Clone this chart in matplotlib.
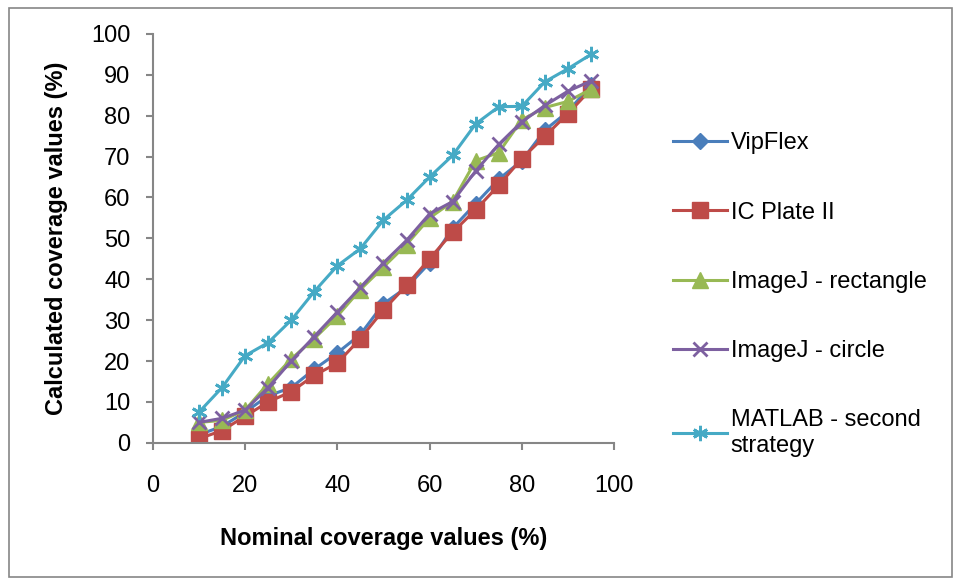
import matplotlib.pyplot as plt
from matplotlib.patches import Rectangle

plt.rcParams['font.family'] = ['Liberation Sans', 'DejaVu Sans']

# Nominal coverage values (%)
nominal = [10, 15, 20, 25, 30, 35, 40, 45, 50, 55, 60, 65, 70, 75, 80, 85, 90, 95]

# Calculated coverage values (%)
vipflex = [2, 4, 7.5, 11.5, 13.5, 18, 22, 26.5, 34, 38, 44, 52.5, 58.5, 64.5, 69, 76.5, 81, 87.5]
ic_plate = [1, 3, 6.5, 10, 12.5, 16.5, 19.5, 25.5, 32.5, 38.5, 45, 51.5, 57, 63, 69.5, 75, 80.5, 86.5]
imagej_rect = [5, 5.5, 8, 14.5, 20.5, 25.5, 31, 37.5, 43, 48.5, 55, 59, 69, 71, 79, 82, 83.5, 86.5]
imagej_circle = [5, 6, 8, 13.5, 20, 26, 32, 38, 44, 49.5, 56, 59, 66.5, 73, 78.5, 82.5, 86, 88.5]
matlab = [7.5, 13.5, 21.3, 24.5, 30, 37, 43.3, 47.5, 54.5, 59.3, 65, 70.3, 78, 82.2, 82.3, 88.3, 91.5, 95]

fig = plt.figure(figsize=(9.61, 5.85), dpi=100)
ax = fig.add_axes([0.159, 0.243, 0.48, 0.699])

lw = 2.2
ax.plot(nominal, vipflex, color='#4A7EBB', marker='D', markersize=8, linewidth=lw, label='VipFlex')
ax.plot(nominal, ic_plate, color='#BE4B48', marker='s', markersize=11, linewidth=lw, label='IC Plate II')
ax.plot(nominal, imagej_rect, color='#98B954', marker='^', markersize=11, linewidth=lw,
        label='ImageJ - rectangle')
ax.plot(nominal, imagej_circle, color='#7D60A0', marker='x', markersize=10, markeredgewidth=2,
        linewidth=lw, label='ImageJ - circle')
ax.plot(nominal, matlab, color='#46AAC5', marker=(6, 2, 0), markersize=11, markeredgewidth=2,
        linewidth=lw, label='MATLAB - second\nstrategy')

ax.set_xlim(0, 100)
ax.set_ylim(0, 100)
ax.set_xticks(range(0, 101, 20))
ax.set_yticks(range(0, 101, 10))
ax.tick_params(labelsize=17, length=5, width=1.5, color='#868686', direction='out')
ax.tick_params(axis='x', pad=18)
ax.tick_params(axis='y', pad=11)
for side in ['top', 'right']:
    ax.spines[side].set_visible(False)
for side in ['left', 'bottom']:
    ax.spines[side].set_color('#868686')
    ax.spines[side].set_linewidth(1.5)

ax.set_xlabel('Nominal coverage values (%)', fontsize=17, fontweight='bold')
ax.set_ylabel('Calculated coverage values (%)', fontsize=17, fontweight='bold')
ax.xaxis.set_label_coords(0.5, -0.205)
ax.yaxis.set_label_coords(-0.183, 0.5)

fig.legend(loc='upper left', bbox_to_anchor=(0.678, 0.81), frameon=False, fontsize=17,
           labelspacing=2.0, handlelength=2.3, handletextpad=0.15)

# outer chart border
fig.patches.append(Rectangle((0.009, 0.014), 0.982, 0.972, transform=fig.transFigure,
                             fill=False, edgecolor='#868686', linewidth=1.2))

fig.savefig('out.png', dpi=100)
